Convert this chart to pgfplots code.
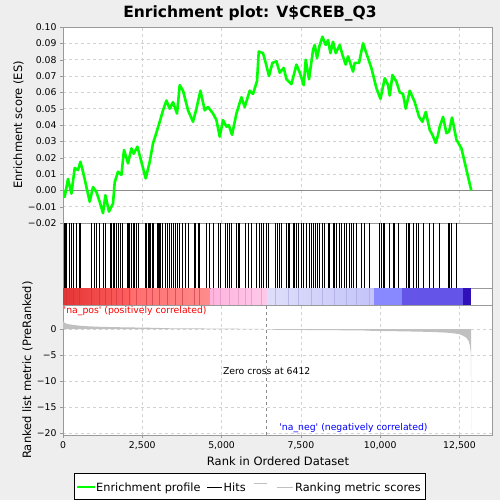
\documentclass[border=0pt]{standalone}
\usepackage{fontspec}
\setmainfont{DejaVu Sans}[Ligatures=TeXOff]
\usepackage{pgfplots}
\pgfplotsset{compat=1.18}
\definecolor{bg}{HTML}{EEEEEE}
\definecolor{framec}{HTML}{9A9A9A}
\definecolor{gridc}{HTML}{D2D2D2}
\definecolor{esgreen}{HTML}{00FF00}
\definecolor{metricc}{HTML}{C0C0C0}
\definecolor{zeroc}{HTML}{8A8A8A}
\definecolor{cbA}{RGB}{228,52,52}
\definecolor{cbB}{RGB}{255,96,96}
\definecolor{cbC}{RGB}{255,110,110}
\definecolor{cbD}{RGB}{255,140,140}
\definecolor{cbE}{RGB}{255,180,222}
\definecolor{cbF}{RGB}{255,200,232}
\definecolor{cbG}{RGB}{222,222,250}
\definecolor{cbH}{RGB}{196,196,250}
\definecolor{cbI}{RGB}{136,136,255}
\definecolor{cbJ}{RGB}{100,84,232}
\definecolor{cbK}{RGB}{48,16,184}
\definecolor{stR}{RGB}{200,50,60}
\definecolor{stP}{RGB}{220,150,190}
\definecolor{stL}{RGB}{170,170,220}
\pgfplotsset{gsea/.style={scale only axis, width=429pt, xmin=0, xmax=13525,
  anchor=north west,
  axis background/.style={fill=white},
  axis line style={framec}, tick style={framec},
  grid style={dashed, gridc},
  tick align=outside, major tick length=3pt,
  scaled x ticks=false,
  tick label style={font=\fontsize{9.3}{11}\selectfont},
  /pgf/number format/assume math mode=true}}
\begin{document}
\begin{tikzpicture}[x=1pt,y=1pt]
\fill[bg] (0pt,0pt) rectangle (500pt,-500pt);
% ---------------- top: enrichment profile
\begin{axis}[gsea, at={(63pt,-27pt)}, height=196pt,
  ymin=-0.02, ymax=0.10,
  xtick={0,2500,5000,7500,10000,12500}, xticklabels={}, xtick style={draw=none},
  ytick={-0.02,-0.01,0,0.01,0.02,0.03,0.04,0.05,0.06,0.07,0.08,0.09,0.10},
  yticklabels={−0.02,−0.01,0.00,0.01,0.02,0.03,0.04,0.05,0.06,0.07,0.08,0.09,0.10},
  ytick pos=left, grid=major]
\draw[zeroc, line width=0.8pt] (axis cs:0,0) -- (axis cs:13525,0);
\addplot[esgreen, line width=2.6pt, line join=round] coordinates {
(0,0) (22,-0.001) (54,-0.004) (158,0.007) (265,-0.002) (369,0.0137) (473,0.0124)
(549,0.0175) (631,0.0114) (842,-0.007) (946,0.002) (1053,-0.001) (1157,-0.007)
(1261,-0.014) (1337,-0.003) (1450,-0.013) (1577,-0.008) (1630,0.005) (1734,0.0114)
(1841,0.0094) (1923,0.0247) (2050,0.0165) (2157,0.0257) (2229,0.0224) (2346,0.0267)
(2608,0.0073) (2734,0.0175) (2838,0.0288) (2923,0.0339) (3049,0.042) (3153,0.049)
(3260,0.055) (3364,0.050) (3468,0.054) (3594,0.047) (3680,0.0644) (3784,0.061)
(3941,0.049) (4099,0.042) (4206,0.050) (4332,0.061) (4468,0.049) (4572,0.051)
(4730,0.047) (4837,0.043) (4941,0.0328) (5045,0.043) (5152,0.039) (5225,0.040)
(5329,0.034) (5467,0.047) (5625,0.057) (5729,0.051) (5887,0.061) (5991,0.059)
(6117,0.067) (6171,0.085) (6306,0.084) (6391,0.078) (6495,0.070) (6602,0.078)
(6729,0.079) (6833,0.072) (6959,0.075) (7044,0.068) (7202,0.065) (7359,0.077)
(7485,0.071) (7589,0.0644) (7652,0.080) (7756,0.068) (7883,0.086) (7936,0.089)
(8009,0.081) (8094,0.089) (8179,0.094) (8283,0.089) (8356,0.092) (8431,0.084)
(8513,0.091) (8598,0.084) (8724,0.089) (8809,0.083) (8913,0.077) (8986,0.082)
(9144,0.0727) (9197,0.078) (9333,0.078) (9459,0.090) (9724,0.0747) (9882,0.0625)
(10008,0.056) (10143,0.0686) (10247,0.0645) (10301,0.058) (10386,0.0706) (10512,0.0665)
(10616,0.060) (10720,0.059) (10805,0.050) (10932,0.061) (11089,0.054) (11225,0.045)
(11332,0.042) (11436,0.048) (11562,0.037) (11647,0.034) (11751,0.029) (11824,0.034)
(11877,0.039) (11981,0.045) (12088,0.035) (12171,0.036) (12265,0.0446) (12404,0.031)
(12562,0.0256) (12870,0.0)};
\end{axis}
% ---------------- hits
\begin{axis}[gsea, at={(63pt,-223pt)}, height=65pt, ymin=0, ymax=1,
  xtick=\empty, ytick=\empty]
\addplot[ycomb, black, line width=0.9pt, mark=none] coordinates {
(32,1) (64,1) (106,1) (211,1) (264,1) (337,1) (421,1) (505,1) (537,1) (894,1) (978,1)
(1052,1) (1136,1) (1262,1) (1346,1) (1483,1) (1525,1) (1577,1) (1630,1) (1683,1)
(1756,1) (1809,1) (1872,1) (2019,1) (2061,1) (2103,1) (2155,1) (2208,1) (2261,1)
(2313,1) (2366,1) (2607,1) (2639,1) (2681,1) (2712,1) (2755,1) (2818,1) (2860,1)
(2975,1) (3017,1) (3049,1) (3080,1) (3122,1) (3227,1) (3280,1) (3364,1) (3417,1)
(3469,1) (3543,1) (3606,1) (3679,1) (3763,1) (3848,1) (3942,1) (4131,1) (4184,1)
(4268,1) (4310,1) (4520,1) (4604,1) (4730,1) (4888,1) (4962,1) (5130,1) (5182,1)
(5256,1) (5308,1) (5466,1) (5519,1) (5571,1) (5760,1) (5834,1) (5939,1) (6097,1)
(6181,1) (6244,1) (6307,1) (6412,1) (6475,1) (6706,1) (6759,1) (6832,1) (6885,1)
(7043,1) (7095,1) (7148,1) (7253,1) (7305,1) (7358,1) (7431,1) (7516,1) (7589,1)
(7673,1) (7778,1) (7831,1) (7883,1) (7957,1) (8020,1) (8094,1) (8178,1) (8251,1)
(8356,1) (8409,1) (8514,1) (8567,1) (8619,1) (8724,1) (8777,1) (8882,1) (8934,1)
(9040,1) (9092,1) (9145,1) (9250,1) (9407,1) (9512,1) (9670,1) (9964,1) (10038,1)
(10090,1) (10143,1) (10301,1) (10406,1) (10458,1) (10563,1) (10826,1) (10878,1)
(10931,1) (11036,1) (11141,1) (11194,1) (11352,1) (11562,1) (11667,1) (11877,1)
(12140,1) (12193,1) (12245,1) (12403,1)};
\end{axis}
% ---------------- colour bar
\begin{axis}[gsea, at={(63pt,-288pt)}, height=17pt, ymin=0, ymax=1,
  xtick=\empty, ytick=\empty]
\fill[left color=cbA, right color=cbB] (axis cs:0,0) rectangle (axis cs:2150,1);
\fill[left color=cbC, right color=cbD] (axis cs:2150,0) rectangle (axis cs:4650,1);
\fill[left color=cbE, right color=cbF] (axis cs:4650,0) rectangle (axis cs:6430,1);
\fill[left color=cbG, right color=cbH] (axis cs:6430,0) rectangle (axis cs:9800,1);
\fill[cbI] (axis cs:9800,0) rectangle (axis cs:10700,1);
\fill[cbJ] (axis cs:10700,0) rectangle (axis cs:12600,1);
\fill[cbK] (axis cs:12600,0) rectangle (axis cs:12870,1);
\addplot[ycomb, stR, line width=0.5pt, mark=none, opacity=0.6] coordinates {
(106,1) (337,1) (505,1) (894,1) (1136,1) (1346,1) (1525,1) (1683,1) (1872,1) (2103,1)
(2313,1) (2639,1) (2818,1) (3049,1) (3280,1) (3543,1) (3763,1) (4131,1) (4310,1)};
\addplot[ycomb, stP, line width=0.5pt, mark=none, opacity=0.7] coordinates {
(4730,1) (4962,1) (5256,1) (5519,1) (5760,1) (5939,1) (6244,1)};
\addplot[ycomb, stL, line width=0.5pt, mark=none, opacity=0.7] coordinates {
(6706,1) (7095,1) (7431,1) (7831,1) (8178,1) (8567,1) (8934,1) (9250,1) (9670,1)};
\end{axis}
% ---------------- ranked list metric
\begin{axis}[gsea, at={(63pt,-305pt)}, height=130pt,
  ymin=-20.38, ymax=4.62,
  xtick={0,2500,5000,7500,10000,12500},
  xticklabels={0,{2,500},{5,000},{7,500},{10,000},{12,500}},
  ytick={-20,-15,-10,-5,0}, yticklabels={−20,−15,−10,−5,0},
  xtick pos=bottom, ytick pos=left, grid=major]
\addplot[fill=metricc, draw=none] coordinates {
(0,1.7) (20,1.4) (60,1.15) (150,0.95) (300,0.8) (500,0.65) (800,0.52) (1200,0.42)
(1800,0.34) (2500,0.27) (3000,0.22) (3100,0.16) (4000,0.12) (5000,0.08) (6000,0.03)
(6412,0) (6700,-0.15) (7500,-0.18) (8500,-0.22) (9500,-0.28) (9800,-0.36) (10500,-0.42)
(11200,-0.5) (11700,-0.58) (12100,-0.7) (12350,-0.85) (12500,-1.0) (12620,-1.3)
(12720,-1.7) (12790,-2.3) (12830,-3.2) (12855,-4.5) (12862,-7) (12866,-19.5)
(12870,-19.5) (12870,0)} \closedcycle;
\draw[dashed, zeroc] (axis cs:6412,-20.38) -- (axis cs:6412,4.62);
\end{axis}
% ---------------- texts
\node[anchor=base, font=\fontsize{15.5}{18}\selectfont\bfseries] at (250pt,-17.3pt) {Enrichment plot: V\$CREB\_Q3};
\node[rotate=90, font=\fontsize{11.5}{13}\selectfont] at (18.5pt,-125pt) {Enrichment score (ES)};
\node[rotate=90, font=\fontsize{11.5}{13}\selectfont] at (27.5pt,-370pt) {Ranked list metric (PreRanked)};
\node[anchor=base, font=\fontsize{11.5}{13}\selectfont] at (278pt,-465.7pt) {Rank in Ordered Dataset};
\node[anchor=base west, inner sep=0pt, text=red, font=\fontsize{9.3}{11}\selectfont] at (63.5pt,-313.5pt) {'na\_pos' (positively correlated)};
\node[anchor=base, inner sep=0pt, font=\fontsize{9.3}{11}\selectfont] at (266.7pt,-374pt) {Zero cross at 6412};
\node[anchor=base, inner sep=0pt, text=blue, font=\fontsize{9.3}{11}\selectfont] at (353.5pt,-430.3pt) {'na\_neg' (negatively correlated)};
% ---------------- legend
\draw[fill=white, draw=black, line width=0.8pt] (74pt,-473pt) rectangle (425pt,-499pt);
\draw[esgreen, line width=2pt] (77pt,-487pt) -- (95pt,-487pt);
\node[anchor=base west, inner sep=0pt, font=\fontsize{11.3}{13}\selectfont] at (96pt,-491pt) {Enrichment profile};
\draw[black, line width=0.9pt] (207pt,-487pt) -- (222pt,-487pt);
\node[anchor=base west, inner sep=0pt, font=\fontsize{11.3}{13}\selectfont] at (223.5pt,-491pt) {Hits};
\draw[metricc, line width=0.9pt] (254pt,-483.3pt) -- (267pt,-483.3pt);
\draw[metricc, line width=0.9pt] (277pt,-487pt) -- (293pt,-487pt);
\node[anchor=base west, inner sep=0pt, font=\fontsize{11.3}{13}\selectfont] at (295pt,-491pt) {Ranking metric scores};
\pgfresetboundingbox
\path[use as bounding box] (0pt,0pt) rectangle (500pt,-500pt);
\end{tikzpicture}
\end{document}
